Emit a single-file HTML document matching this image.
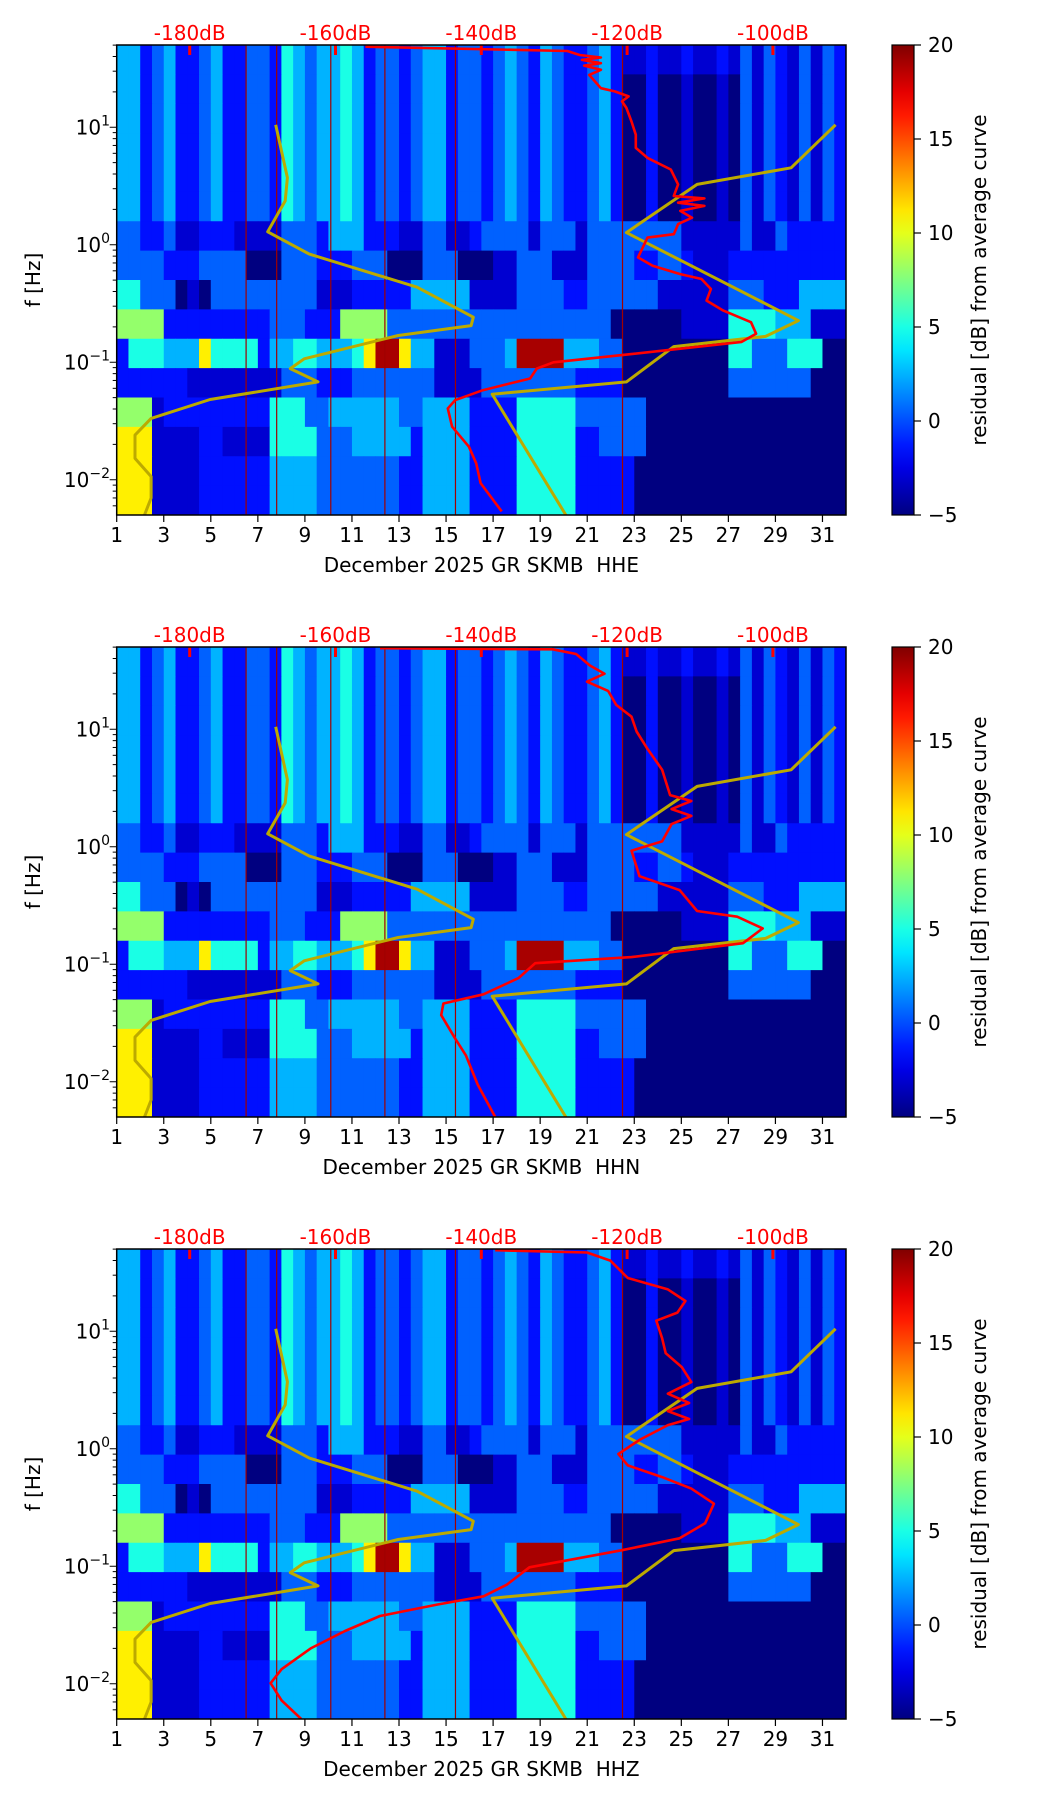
<!DOCTYPE html>
<html><head><meta charset="utf-8"><style>
html,body{margin:0;padding:0;background:#fff;}
svg{display:block;font-family:"DejaVu Sans","Liberation Sans",sans-serif;}
</style></head><body>
<svg id="fig" xmlns="http://www.w3.org/2000/svg" width="1052" height="1806" viewBox="0 0 1052 1806"></svg>
<script>
// ---- data ----
const channels = ["HHE","HHN","HHZ"];
const dbTicks = [-180,-160,-140,-120,-100];
const dayTicks = [1,3,5,7,9,11,13,15,17,19,21,23,25,27,29,31];
const cbTicks = [-5,0,5,10,15,20];
const levelValues = [-5,-3,-1.5,0.5,2.5,5,8,11,15,19];
const eventDays = [6.5,7.8,10.1,12.4,15.4,22.5];
// residual grid: 16 rows (0.25 decade, from 50 Hz down), 62 half-day columns
const gridRows = [
"44234223422332543445423323442332343243223421121121121313213132",
"44234223422332543445423323442332343243223420020010010313213132",
"44234223422332543445423323442332343243223420020010010313213132",
"44234223422332543445423323442332343243223420020010010313213132",
"44234223422332543445423323442332343243223420020010010313213132",
"44234223422332543445423323442332343243223420020010010313213132",
"33223112221111333244422211331123333133313333333311111311322222",
"33332223333000333222333000333000113331113333223321112222222222",
"55333010333333333111222224444411113333223333331111113332224444",
"66662222222223332226666333333333333333333300000011115555444111",
"25554447555524455444579974411133349999444330000000005533355500",
"22222211111111333222333333311113333333322220000000003333333000",
"66612222222225553344444433444422225555533333300000000000000000",
"77711112211115555333444442444422225555522333300000000000000000",
"77711112222224444333333322444422225555522222000000000000000000",
"77711112222224444333333322444422225555522222000000000000000000"
];
// noise models (dB, Hz)
const nlnmDb = [-168.2,-166.6,-166.9,-169.3,-163.6,-148.8,-141.1,-141.4,-151.4,-164.3,-166.2,-162.4,-177.2,-185.3,-187.5,-187.5,-185.3,-185.3,-186.2];
const nlnmHz = [10.5,3.72,2.36,1.29,0.832,0.435,0.242,0.205,0.169,0.107,0.0883,0.0681,0.0482,0.0333,0.024,0.0152,0.01066,0.00699,0.00501];
const nhnmDb = [-91.4,-97.5,-110.4,-120.1,-96.5,-101.0,-113.6,-120.1,-138.5,-128.4];
const nhnmHz = [10.5,4.52,3.26,1.27,0.226,0.166,0.136,0.068,0.0535,0.005];
// average PSD curves per channel
const avgDbHHE = [-155.9,-128.2,-126.5,-123.6,-126.2,-123.6,-125.9,-123.6,-125.2,-123.6,-121.7,-119.8,-120.7,-120.1,-119.4,-118.8,-118.8,-117.2,-114.0,-113.0,-113.6,-109.4,-113.0,-109.4,-112.7,-111.1,-113.0,-113.6,-117.2,-118.5,-116.5,-112.7,-109.8,-108.5,-109.1,-106.8,-103.0,-102.3,-104.3,-119.1,-130.1,-132.4,-133.3,-139.8,-143.6,-144.6,-144.0,-141.7,-140.7,-140.1,-137.2];
const avgHzHHE = [48.5,44.6,41.2,39.2,37.4,35.1,33.5,30.8,27.9,21.5,20.2,18.3,16.6,14.6,11.2,8.65,6.67,5.49,4.37,3.26,2.60,2.48,2.28,2.14,1.94,1.70,1.50,1.23,1.15,0.780,0.662,0.563,0.511,0.420,0.335,0.275,0.219,0.175,0.149,0.118,0.100,0.0883,0.0727,0.0578,0.0475,0.0404,0.0283,0.0191,0.0138,0.00936,0.00538];
const avgDbHHN = [-153.9,-130.2,-127.0,-125.1,-123.1,-125.5,-122.6,-121.5,-119.4,-118.7,-117.2,-115.2,-114.1,-111.2,-113.9,-111.2,-113.9,-115.2,-119.4,-118.3,-112.8,-110.4,-104.9,-101.4,-104.1,-119.4,-132.6,-134.9,-139.7,-145.2,-145.5,-143.6,-142.1,-140.5,-138.1];
const avgHzHHN = [49.0,47.9,43.7,34.9,29.7,25.4,21.2,16.1,12.8,9.57,6.81,4.53,2.75,2.45,2.09,1.83,1.56,1.11,0.925,0.561,0.428,0.284,0.254,0.202,0.151,0.115,0.102,0.0762,0.0555,0.0463,0.0369,0.0234,0.0167,0.00946,0.00501];
const avgDbHHZ = [-138.1,-125.5,-122.3,-119.9,-114.4,-112.0,-113.1,-116.0,-115.2,-114.7,-112.5,-111.2,-114.4,-111.5,-114.4,-111.5,-114.4,-118.3,-121.2,-119.9,-115.2,-111.2,-108.1,-109.3,-112.8,-120.7,-133.4,-136.5,-139.7,-146.0,-153.9,-158.7,-163.4,-167.4,-168.9,-167.4,-164.7];
const avgHzHHZ = [49.0,46.8,39.9,28.4,22.7,18.1,14.4,12.3,8.73,6.50,4.95,3.69,2.94,2.45,2.09,1.79,1.59,1.19,0.903,0.721,0.574,0.458,0.341,0.232,0.173,0.137,0.0979,0.0697,0.0555,0.0473,0.0377,0.0281,0.0200,0.0133,0.0101,0.00721,0.00501];
const avgDb = [avgDbHHE, avgDbHHN, avgDbHHZ];
const avgHz = [avgHzHHE, avgHzHHN, avgHzHHZ];

// ---- layout ----
const NS = "http://www.w3.org/2000/svg";
const svg = document.getElementById("fig");
const L = 116.7, R = 846, H = 470;
const tops = [45, 647, 1249];
const CBL = 892, CBR = 914;
const dayX = d => L + (d - 1) * (R - L) / 31;
const dbX = v => 189.7 + (v + 180) * 7.29;
const fY = (f, T) => T + (1.7 - Math.log10(f)) * (H / 4);
const vY = (v, T) => T + H - (v + 5) / 25 * H;
function jet(t){
  t = Math.max(0, Math.min(1, t));
  const c = x => Math.round(255 * Math.max(0, Math.min(1, x)));
  return `rgb(${c(1.5 - Math.abs(4*t - 3))},${c(1.5 - Math.abs(4*t - 2))},${c(1.5 - Math.abs(4*t - 1))})`;
}
function mk(tag, attrs, parent){
  const e = document.createElementNS(NS, tag);
  for (const k in attrs) e.setAttribute(k, attrs[k]);
  (parent || svg).appendChild(e);
  return e;
}
const defs = mk("defs", {});
const grad = mk("linearGradient", {id:"jetg", x1:"0", y1:"1", x2:"0", y2:"0"}, defs);
for (let i = 0; i <= 20; i++) mk("stop", {offset: i/20, "stop-color": jet(i/20)}, grad);

tops.forEach((T, p) => {
  const cp = mk("clipPath", {id: "clip" + p}, defs);
  mk("rect", {x: L, y: T, width: R - L, height: H}, cp);
  const g = mk("g", {});
  
  
  const plot = mk("g", {"clip-path": `url(#clip${p})`}, g);
  
  
  mk("rect", {x: L, y: T, width: R - L, height: H, fill: jet(0)}, plot);
  gridRows.forEach((row, r) => {
    const y0 = fY(Math.pow(10, 1.7 - 0.25*r), T), y1 = fY(Math.pow(10, 1.45 - 0.25*r), T);
    for (let c = 0; c < row.length; c++) {
      const v = levelValues[+row[c]];
      const x0 = dayX(1 + c*0.5), x1 = dayX(1.5 + c*0.5);
      const cell = mk("rect", {x: x0, y: y0, width: x1 - x0 + 0.4, height: y1 - y0 + 0.4, fill: jet((v + 5)/25)}, plot);
      
      
    }
  });
  eventDays.forEach(d => {
    const ln = mk("line", {x1: dayX(d), x2: dayX(d), y1: T, y2: T + H, stroke: "#a00000", "stroke-width": 1.2}, plot);
    
    
  });
  const poly = (xs, ys, color, w, name) => {
    const pts = xs.map((v, i) => dbX(v).toFixed(1) + "," + fY(ys[i], T).toFixed(1)).join(" ");
    const pl = mk("polyline", {points: pts, fill: "none", stroke: color, "stroke-width": w, "stroke-linejoin": "round"}, plot);
    
    
  };
  poly(nlnmDb, nlnmHz, "#bcaa00", 3, "nlnm-curve");
  poly(nhnmDb, nhnmHz, "#bcaa00", 3, "nhnm-curve");
  poly(avgDb[p], avgHz[p], "#ff0000", 2.6, "average-psd-curve");
  dbTicks.forEach(v => {
    const tk = mk("line", {x1: dbX(v), x2: dbX(v), y1: T, y2: T + 10, stroke: "#ff0000", "stroke-width": 3}, g);
    
    
    const tx = mk("text", {x: dbX(v), y: T - 5, "text-anchor": "middle", "font-size": 20, fill: "#ff0000"}, g);
    tx.textContent = v + "dB";
    
    
  });
  const fr = mk("rect", {x: L, y: T, width: R - L, height: H, fill: "none", stroke: "#000", "stroke-width": 1.5}, g);
  
  
  dayTicks.forEach(d => {
    mk("line", {x1: dayX(d), x2: dayX(d), y1: T + H, y2: T + H + 7, stroke: "#000", "stroke-width": 1.2}, g);
    const tx = mk("text", {x: dayX(d), y: T + H + 27, "text-anchor": "middle", "font-size": 20, fill: "#000"}, g);
    tx.textContent = d;
    
    
  });
  const xl = mk("text", {x: (L + R)/2, y: T + H + 57, "text-anchor": "middle", "font-size": 20, fill: "#000", style: "white-space:pre"}, g);
  xl.textContent = "December 2025 GR SKMB  " + channels[p];
  
  
  for (let e = -3; e <= 1; e++) {
    for (let m = 1; m <= 9; m++) {
      const f = m * Math.pow(10, e);
      const lg = Math.log10(f);
      if (lg > 1.7 || lg < -2.3) continue;
      const y = fY(f, T);
      mk("line", {x1: L, x2: L - (m === 1 ? 7 : 4), y1: y, y2: y, stroke: "#000", "stroke-width": 1}, g);
      if (m === 1) {
        const tx = mk("text", {x: 110, y: y + 7, "text-anchor": "end", "font-size": 20, fill: "#000"}, g);
        
        
        tx.appendChild(document.createTextNode("10"));
        const sp = mk("tspan", {dy: -9, "font-size": 14}, tx);
        sp.textContent = e < 0 ? "\u2212" + (-e) : String(e);
      }
    }
  }
  const yl = mk("text", {x: 0, y: 0, transform: `translate(40,${T + H/2}) rotate(-90)`, "text-anchor": "middle", "font-size": 20, fill: "#000"}, g);
  yl.textContent = "f [Hz]";
  
  
  const cb = mk("rect", {x: CBL, y: T, width: CBR - CBL, height: H, fill: "url(#jetg)", stroke: "#000", "stroke-width": 1.2}, g);
  
  
  cbTicks.forEach(v => {
    const y = vY(v, T);
    mk("line", {x1: CBR, x2: CBR + 7, y1: y, y2: y, stroke: "#000", "stroke-width": 1.2}, g);
    const tx = mk("text", {x: 928, y: y + 7, "font-size": 20, fill: "#000"}, g);
    tx.textContent = v < 0 ? "\u2212" + (-v) : String(v);
    
    
  });
  const cl = mk("text", {x: 0, y: 0, transform: `translate(986,${T + H/2}) rotate(-90)`, "text-anchor": "middle", "font-size": 20, fill: "#000"}, g);
  cl.textContent = "residual [dB] from average curve";
  
  
});
</script>
</body></html>
